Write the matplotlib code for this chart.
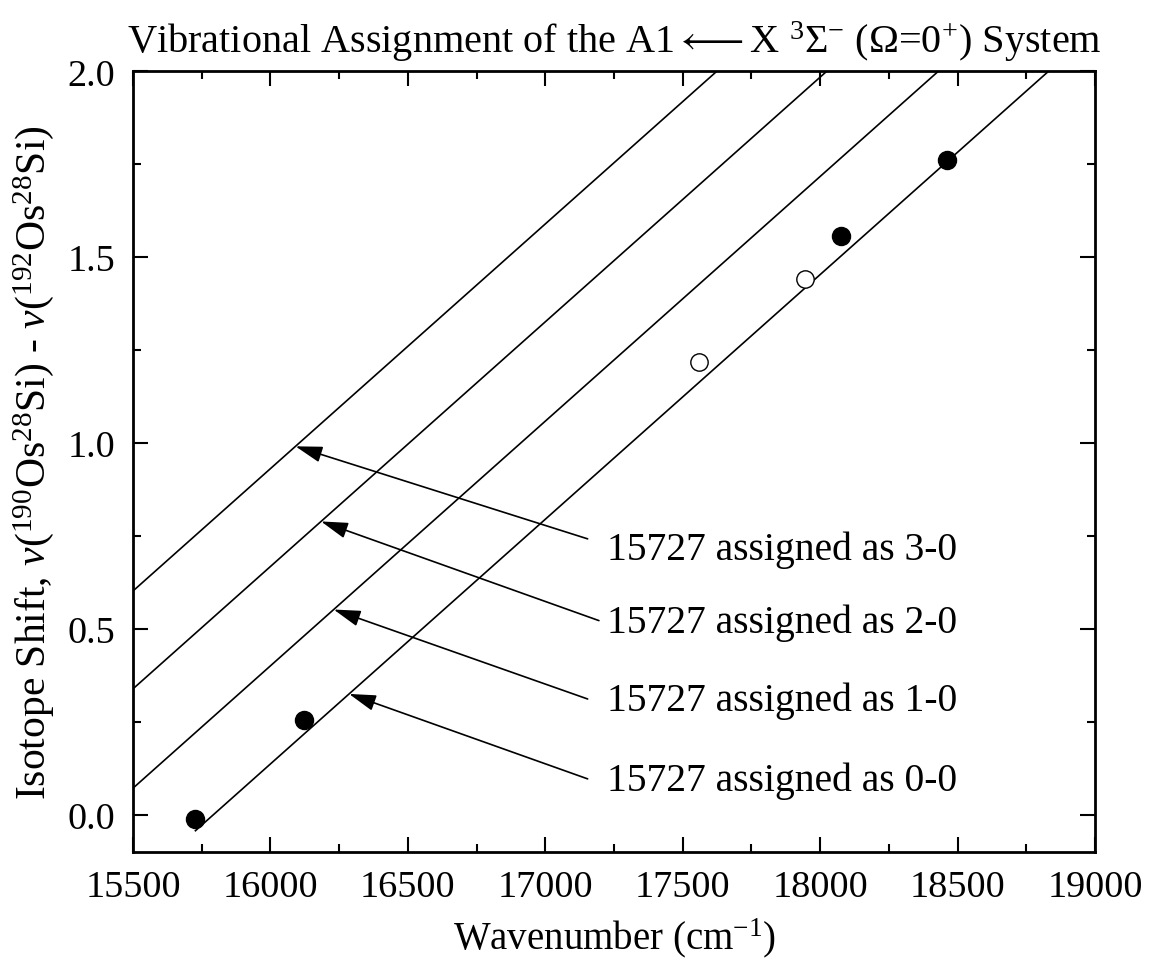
import numpy as np
import matplotlib
matplotlib.use("Agg")
import matplotlib.pyplot as plt
from matplotlib.ticker import MultipleLocator, FormatStrFormatter

plt.rcParams['font.family'] = ['Liberation Serif', 'DejaVu Sans']
plt.rcParams['mathtext.fontset'] = 'custom'
plt.rcParams['mathtext.rm'] = 'Liberation Serif'
plt.rcParams['mathtext.it'] = 'Liberation Serif:italic'
plt.rcParams['mathtext.bf'] = 'Liberation Serif:bold'
plt.rcParams['mathtext.fallback'] = 'stix'

# Measured isotope shifts (filled: observed bands, open: tentative bands)
filled_x = [15727, 16122, 18075, 18460]
filled_y = [-0.012, 0.254, 1.557, 1.762]
open_x = [17559, 17944]
open_y = [1.219, 1.441]

# Predicted shift lines for each vibrational assignment of the 15727 band
assignments = ['3-0', '2-0', '1-0', '0-0']
line_slope = 6.585e-4            # shift per cm-1
line_zero_x = [14586, 14986, 15392, 15793]   # wavenumber where predicted shift is zero
line_start_x = [15500, 15500, 15500, 15727]

# Arrow annotations: tip wavenumber on each line, tail/label positions
arrow_tip_x = [16091, 16184, 16230, 16286]
arrow_tail_x = [17154, 17195, 17154, 17154]
arrow_tail_y = [0.742, 0.522, 0.311, 0.096]
label_x = 17224
label_y = [0.714, 0.517, 0.307, 0.092]

xlim = (15500, 19000)
ylim = (-0.1, 2.0)

fig = plt.figure(figsize=(11.49, 9.79), dpi=100)
ax = fig.add_axes([0.1158, 0.129, 0.953 - 0.1158, 0.926 - 0.129])

for x0, xs in zip(line_zero_x, line_start_x):
    xe = x0 + ylim[1] / line_slope
    xx = np.array([xs, min(xe, xlim[1])])
    ax.plot(xx, line_slope * (xx - x0), color='black', lw=1.2, zorder=2)

ax.plot(filled_x, filled_y, 'o', ms=13, color='black', zorder=3)
ax.plot(open_x, open_y, 'o', ms=12.5, mfc='white', mec='black', mew=1.0, zorder=3)

for name, x0, tx, ax_x, ay, ly in zip(assignments, line_zero_x, arrow_tip_x,
                                       arrow_tail_x, arrow_tail_y, label_y):
    ty = line_slope * (tx - x0)
    ax.annotate('', xy=(tx, ty), xytext=(ax_x, ay),
                arrowprops=dict(arrowstyle='-|>,head_length=1.1,head_width=0.33',
                                mutation_scale=15, lw=1.2, color='black',
                                shrinkA=0, shrinkB=0))
    ax.text(label_x, ly, f'15727 assigned as {name}', fontsize=28.5,
            ha='left', va='center')

ax.set_xlim(*xlim)
ax.set_ylim(*ylim)
ax.xaxis.set_major_locator(MultipleLocator(500))
ax.xaxis.set_minor_locator(MultipleLocator(250))
ax.yaxis.set_major_locator(MultipleLocator(0.5))
ax.yaxis.set_minor_locator(MultipleLocator(0.25))
ax.yaxis.set_major_formatter(FormatStrFormatter('%.1f'))

ax.tick_params(which='both', direction='in', top=True, right=True,
               width=1.5, labelsize=27.5)
ax.tick_params(which='major', length=11, pad=13)
ax.tick_params(which='minor', length=6)
for sp in ax.spines.values():
    sp.set_linewidth(2.0)

ax.set_xlabel('Wavenumber (cm$^{-1}$)', fontsize=28, labelpad=8)
ax.set_ylabel(r'Isotope Shift, $\it{v}$($^{190}$Os$^{28}$Si) - $\it{v}$($^{192}$Os$^{28}$Si)',
              fontsize=30, labelpad=8)
ax.set_title(r'Vibrational Assignment of the A1$\longleftarrow$X $^{3}\Sigma^{-}$ (Ω=0$^{+}$) System',
             fontsize=29, pad=14)

fig.savefig('out.png', dpi=100)
